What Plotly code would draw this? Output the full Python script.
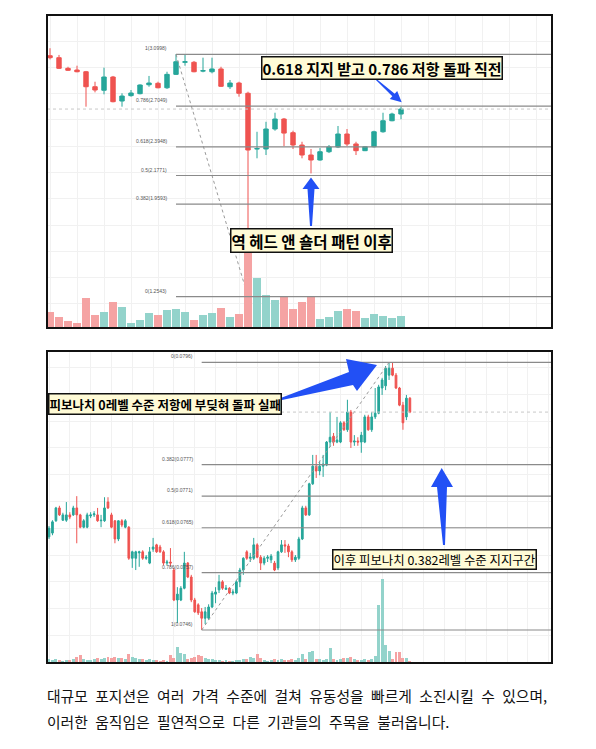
import plotly.graph_objects as go

W, H = 596, 749
OFF = 8  # default body margin of the html page
FW, FH = W - 2 * OFF, H - 2 * OFF

# top chart (40 candles)
top_open = [3.089, 3.074, 2.993, 2.980, 2.967, 2.853, 2.826, 2.927, 2.744, 2.785,
            2.800, 2.868, 2.879, 2.845, 2.947, 3.039, 3.039, 2.972, 2.967, 2.988,
            2.853, 2.881, 2.803, 2.379, 2.379, 2.531, 2.607, 2.503, 2.409, 2.333,
            2.295, 2.358, 2.394, 2.493, 2.417, 2.366, 2.396, 2.510, 2.594, 2.645]
top_high = [3.146, 3.095, 3.005, 3.013, 2.973, 2.891, 2.998, 2.935, 2.803, 2.828,
            2.871, 2.935, 2.891, 2.967, 3.0998, 3.095, 3.049, 3.074, 3.074, 3.005,
            2.904, 2.891, 2.815, 2.510, 2.586, 2.655, 2.615, 2.518, 2.434, 2.379,
            2.386, 2.409, 2.554, 2.531, 2.434, 2.401, 2.518, 2.655, 2.655, 2.701]
top_low = [3.061, 2.988, 2.973, 2.963, 2.701, 2.810, 2.795, 2.734, 2.701, 2.777,
           2.795, 2.853, 2.841, 2.836, 2.942, 3.013, 2.963, 2.963, 2.955, 2.851,
           2.836, 2.777, 1.2543, 2.308, 2.333, 2.518, 2.401, 2.379, 2.308, 2.193,
           2.290, 2.348, 2.386, 2.401, 2.333, 2.363, 2.391, 2.503, 2.590, 2.605]
top_close = [3.074, 2.993, 2.978, 2.967, 2.853, 2.828, 2.927, 2.739, 2.782, 2.805,
             2.866, 2.881, 2.845, 2.947, 3.043, 3.043, 2.967, 2.975, 2.988, 2.856,
             2.881, 2.803, 2.371, 2.382, 2.531, 2.607, 2.500, 2.409, 2.333, 2.295,
             2.358, 2.394, 2.493, 2.417, 2.366, 2.396, 2.510, 2.594, 2.645, 2.683]
top_vol = [47, 34, 22, 14, 90, 38, 47, 77, 63, 14, 23, 44, 38, 53, 57, 47, 24, 40, 44, 59,
           32, 42, 240, 150, 98, 85, 93, 57, 77, 92, 27, 32, 50, 56, 50, 30, 43, 35, 31, 35]
top_fib_from = 14   # swing high candle (level 1)
top_fib_to = 22     # swing low candle (level 0)

# bottom chart (105 candles)
bot_open = [0.07634, 0.07641, 0.07664, 0.07688, 0.07665, 0.07665, 0.07675, 0.07675, 0.07688, 0.07675,
            0.07652, 0.07652, 0.07673, 0.07675, 0.07675, 0.07664, 0.07664, 0.07699, 0.07675, 0.07664,
            0.07630, 0.07664, 0.07652, 0.07652, 0.07594, 0.07594, 0.07604, 0.07606, 0.07594, 0.07585,
            0.07611, 0.07619, 0.07615, 0.07606, 0.07585, 0.07587, 0.07572, 0.07516, 0.07516, 0.07538,
            0.07585, 0.07559, 0.07516, 0.07507, 0.07494, 0.07482, 0.07482, 0.07503, 0.07527, 0.07535,
            0.07550, 0.07536, 0.07538, 0.07529, 0.07529, 0.07550, 0.07572, 0.07606, 0.07594, 0.07594,
            0.07619, 0.07596, 0.07585, 0.07594, 0.07591, 0.07585, 0.07576, 0.07606, 0.07619, 0.07617,
            0.07606, 0.07591, 0.07594, 0.07630, 0.07688, 0.07675, 0.07733, 0.07766, 0.07757, 0.07766,
            0.07768, 0.07811, 0.07822, 0.07811, 0.07811, 0.07847, 0.07834, 0.07867, 0.07811, 0.07813,
            0.07811, 0.07811, 0.07858, 0.07834, 0.07858, 0.07865, 0.07912, 0.07916, 0.07936, 0.07949,
            0.07936, 0.07912, 0.07880, 0.07858, 0.07893]
bot_high = [0.07654, 0.07665, 0.07690, 0.07692, 0.07679, 0.07699, 0.07680, 0.07692, 0.07710, 0.07677,
            0.07667, 0.07679, 0.07680, 0.07682, 0.07688, 0.07675, 0.07708, 0.07708, 0.07679, 0.07665,
            0.07665, 0.07667, 0.07667, 0.07654, 0.07608, 0.07608, 0.07608, 0.07609, 0.07600, 0.07615,
            0.07632, 0.07621, 0.07619, 0.07609, 0.07591, 0.07613, 0.07576, 0.07540, 0.07542, 0.07606,
            0.07587, 0.07563, 0.07520, 0.07510, 0.07501, 0.07503, 0.07508, 0.07533, 0.07540, 0.07563,
            0.07553, 0.07544, 0.07540, 0.07536, 0.07553, 0.07576, 0.07596, 0.07609, 0.07604, 0.07632,
            0.07622, 0.07600, 0.07598, 0.07600, 0.07602, 0.07589, 0.07608, 0.07628, 0.07628, 0.07621,
            0.07609, 0.07600, 0.07634, 0.07692, 0.07692, 0.07735, 0.07787, 0.07787, 0.07776, 0.07787,
            0.07813, 0.07867, 0.07828, 0.07858, 0.07850, 0.07850, 0.07890, 0.07871, 0.07824, 0.07820,
            0.07830, 0.07862, 0.07862, 0.07867, 0.07912, 0.07918, 0.07931, 0.07953, 0.07960, 0.07959,
            0.07940, 0.07914, 0.07886, 0.07899, 0.07895]
bot_low = [0.07630, 0.07637, 0.07662, 0.07673, 0.07664, 0.07662, 0.07667, 0.07673, 0.07622, 0.07650,
           0.07650, 0.07650, 0.07669, 0.07671, 0.07662, 0.07652, 0.07662, 0.07686, 0.07650, 0.07622,
           0.07626, 0.07652, 0.07650, 0.07591, 0.07576, 0.07572, 0.07578, 0.07591, 0.07591, 0.07583,
           0.07606, 0.07604, 0.07604, 0.07581, 0.07581, 0.07579, 0.07514, 0.07473, 0.07514, 0.07536,
           0.07557, 0.07512, 0.07492, 0.07488, 0.07460, 0.07471, 0.07479, 0.07501, 0.07510, 0.07529,
           0.07535, 0.07535, 0.07527, 0.07525, 0.07527, 0.07540, 0.07563, 0.07591, 0.07587, 0.07591,
           0.07594, 0.07572, 0.07581, 0.07587, 0.07585, 0.07570, 0.07572, 0.07604, 0.07604, 0.07596,
           0.07587, 0.07587, 0.07591, 0.07628, 0.07673, 0.07673, 0.07731, 0.07744, 0.07749, 0.07746,
           0.07766, 0.07802, 0.07804, 0.07809, 0.07809, 0.07832, 0.07830, 0.07800, 0.07804, 0.07804,
           0.07791, 0.07809, 0.07832, 0.07830, 0.07854, 0.07863, 0.07899, 0.07908, 0.07927, 0.07934,
           0.07910, 0.07878, 0.07834, 0.07852, 0.07865]
bot_close = [0.07650, 0.07662, 0.07688, 0.07675, 0.07675, 0.07675, 0.07671, 0.07688, 0.07675, 0.07652,
             0.07664, 0.07675, 0.07675, 0.07677, 0.07664, 0.07665, 0.07688, 0.07688, 0.07652, 0.07630,
             0.07664, 0.07656, 0.07664, 0.07594, 0.07606, 0.07606, 0.07606, 0.07594, 0.07596, 0.07606,
             0.07615, 0.07606, 0.07606, 0.07585, 0.07587, 0.07585, 0.07516, 0.07527, 0.07538, 0.07585,
             0.07559, 0.07516, 0.07494, 0.07492, 0.07482, 0.07494, 0.07503, 0.07529, 0.07531, 0.07550,
             0.07538, 0.07538, 0.07529, 0.07531, 0.07550, 0.07572, 0.07594, 0.07594, 0.07596, 0.07619,
             0.07596, 0.07585, 0.07594, 0.07596, 0.07598, 0.07572, 0.07606, 0.07619, 0.07617, 0.07606,
             0.07591, 0.07596, 0.07630, 0.07688, 0.07675, 0.07733, 0.07766, 0.07757, 0.07766, 0.07770,
             0.07811, 0.07820, 0.07811, 0.07815, 0.07847, 0.07834, 0.07867, 0.07811, 0.07813, 0.07811,
             0.07824, 0.07858, 0.07834, 0.07858, 0.07865, 0.07914, 0.07927, 0.07949, 0.07949, 0.07936,
             0.07912, 0.07880, 0.07847, 0.07893, 0.07867]
bot_vol = [4, 3, 4, 3, 2, 3, 3, 4, 6, 8, 4, 3, 3, 4, 5, 4, 5, 6, 5, 6,
           5, 5, 4, 9, 6, 5, 4, 4, 3, 4, 3, 3, 2, 3, 2, 8, 5, 16, 10, 9,
           4, 5, 6, 8, 7, 5, 4, 4, 3, 3, 2, 3, 2, 2, 3, 3, 4, 4, 6, 5,
           9, 5, 3, 2, 3, 4, 3, 4, 3, 3, 4, 3, 5, 9, 4, 11, 12, 4, 4, 3,
           4, 15, 4, 3, 4, 5, 5, 6, 4, 3, 3, 4, 3, 4, 7, 58, 84, 18, 12, 4,
           11, 11, 5, 5, 2]
bot_fib_from = 44   # swing low candle (level 1)
bot_fib_to = 98     # swing high candle (level 0)

fib_ratios = [1, 0.786, 0.618, 0.5, 0.382, 0]

top_text = "0.618 지지 받고 0.786 저항 돌파 직전"
hs_text = "역 헤드 앤 숄더 패턴 이후"
fail_text = "피보나치 0레벨 수준 저항에 부딪혀 돌파 실패"
support_text = "이후 피보나치 0.382레벨 수준 지지구간"
caption = ["대규모 포지션은 여러 가격 수준에 걸쳐 유동성을 빠르게 소진시킬 수 있으며,",
           "이러한 움직임은 필연적으로 다른 기관들의 주목을 불러옵니다."]

UP, DOWN = "#26a69a", "#ef5350"
UP_V, DOWN_V = "#93d3cb", "#f5a3a3"


def px(x):
    return (x - OFF) / FW


def py(y):
    return 1 - (y - OFF) / FH


def path(points):
    s = "M " + " L ".join(f"{px(a):.5f},{py(b):.5f}" for a, b in points)
    return s + " Z"


fig = go.Figure()

panels = [
    dict(o=top_open, h=top_high, l=top_low, c=top_close, v=top_vol, f0=top_fib_from, f1=top_fib_to,
         xa="x", ya="y", yv="y2", top=15, bot=328, x0=50, step=9, vfrac=0.256, dt=3, dy=0.2),
    dict(o=bot_open, h=bot_high, l=bot_low, c=bot_close, v=bot_vol, f0=bot_fib_from, f1=bot_fib_to,
         xa="x2", ya="y3", yv="y4", top=351, bot=663, x0=49, step=3.47, vfrac=0.27, dt=6, dy=0.0005),
]

shapes = []
annotations = []
layout_axes = {}

for k, p in enumerate(panels):
    n = len(p["o"])
    idx = list(range(n))
    vcol = [UP_V if c >= o else DOWN_V for o, c in zip(p["o"], p["c"])]
    fig.add_trace(go.Bar(x=idx, y=p["v"], marker_color=vcol, marker_line_width=0, width=0.85,
                         xaxis=p["xa"], yaxis=p["yv"], showlegend=False))
    fig.add_trace(go.Candlestick(x=idx, open=p["o"], high=p["h"], low=p["l"], close=p["c"],
                                 increasing=dict(line=dict(color=UP, width=1), fillcolor=UP),
                                 decreasing=dict(line=dict(color=DOWN, width=1), fillcolor=DOWN),
                                 whiskerwidth=0, xaxis=p["xa"], yaxis=p["ya"], showlegend=False))

    xr = [(47 - p["x0"]) / p["step"], (552 - p["x0"]) / p["step"]]
    if k == 0:
        hi, lo = p["h"][p["f0"]], p["l"][p["f1"]]
        y_hi, y_lo = 54.3, 296.7
        levels = [lo + r * (hi - lo) for r in fib_ratios]
        diag = ([p["f0"], p["f1"]], [hi, lo])
    else:
        lo, hi = p["l"][p["f0"]], p["h"][p["f1"]]
        y_hi, y_lo = 362.3, 630
        levels = [hi - r * (hi - lo) for r in fib_ratios]
        diag = ([p["f0"], p["f1"]], [lo, hi])
    start = p["f0"]
    scale = (y_lo - y_hi) / (hi - lo)
    yr = [hi - (p["bot"] - y_hi) / scale, hi + (y_hi - p["top"]) / scale]

    fig.add_trace(go.Scatter(x=diag[0], y=diag[1], mode="lines",
                             line=dict(color="#9a9a9a", width=1, dash="dot"),
                             xaxis=p["xa"], yaxis=p["ya"], showlegend=False, hoverinfo="skip"))

    for r, lv in zip(fib_ratios, levels):
        shapes.append(dict(type="line", xref=p["xa"], yref=p["ya"], x0=start, x1=xr[1],
                           y0=lv, y1=lv, line=dict(color="#8a8a8a", width=1.2)))
        annotations.append(dict(xref=p["xa"], yref=p["ya"], x=start - 7 / p["step"],
                                y=lv, yshift=6, xanchor="right", yanchor="middle", showarrow=False,
                                text=f"{r:g}({lv + 1e-9:.4f})",
                                font=dict(size=5, color="#555", family="Liberation Sans")))

    last = p["c"][-1]
    shapes.append(dict(type="line", xref=p["xa"] + " domain", yref=p["ya"], x0=0, x1=1,
                       y0=last, y1=last, line=dict(color="#c8c8c8", width=1, dash="dot")))

    shapes.append(dict(type="rect", xref="paper", yref="paper", x0=px(47), x1=px(552),
                       y0=py(p["bot"]), y1=py(p["top"]), line=dict(color="#111", width=2)))

    xname = "xaxis" if k == 0 else "xaxis2"
    yname = "yaxis" if k == 0 else "yaxis3"
    vname = "yaxis2" if k == 0 else "yaxis4"
    layout_axes[xname] = dict(domain=[px(47), px(552)], range=xr, anchor=p["ya"],
                              showgrid=True, gridcolor="#f1f1f1", tick0=0, dtick=p["dt"],
                              showticklabels=False, zeroline=False, ticks="",
                              rangeslider=dict(visible=False))
    layout_axes[yname] = dict(domain=[py(p["bot"]), py(p["top"])], range=yr, anchor=p["xa"],
                              showgrid=True, gridcolor="#f1f1f1", dtick=p["dy"],
                              showticklabels=False, zeroline=False, ticks="")
    layout_axes[vname] = dict(overlaying=p["ya"], range=[0, max(p["v"]) / p["vfrac"]],
                              visible=False, showgrid=False, zeroline=False)

box_font = "Noto Sans CJK KR"
boxes = [
    (top_text, 381.7, 68.3, 15, True),
    (hs_text, 311.2, 240.0, 15.5, True),
    (fail_text, 164.5, 404.2, 12.5, True),
    (support_text, 434.8, 559.3, 12.4, False),
]
for txt, cx, cy, fs, bold in boxes:
    annotations.append(dict(xref="paper", yref="paper", x=px(cx), y=py(cy),
                            xanchor="center", yanchor="middle", showarrow=False,
                            text=f"<b>{txt}</b>" if bold else txt,
                            font=dict(size=fs, color="#000", family=box_font),
                            bgcolor="#fffbd6", bordercolor="#111", borderwidth=1.5, borderpad=0))

for i, line in enumerate(caption):
    annotations.append(dict(xref="paper", yref="paper", x=px(45), y=py(695 + 26 * i),
                            xanchor="left", yanchor="middle", showarrow=False,
                            text=line.replace(" ", "\u2002"),
                            font=dict(size=14.8, color="#111", family=box_font)))

# blue callout arrows
BLUE = "#2250f5"
arrows = [
    [(374.7, 78.7), (392.3, 96.3), (389.8, 99.1), (401.7, 102.3), (397.2, 90.9), (394.7, 93.7), (375.3, 77.9)],
    [(310, 226), (307.5, 189), (302.5, 189), (311, 177.5), (319.5, 189), (314.5, 189), (312, 226)],
    [(282, 397.5), (349, 372), (346, 359), (377, 365), (357, 391), (353, 385), (282, 400)],
    [(443, 545), (437, 487), (431, 487), (441.7, 468), (453, 487), (447, 487), (445, 545)],
]
for pts in arrows:
    shapes.append(dict(type="path", xref="paper", yref="paper", path=path(pts),
                       fillcolor=BLUE, line=dict(width=0)))

fig.update_layout(width=FW, height=FH, margin=dict(l=0, r=0, t=0, b=0),
                  paper_bgcolor="white", plot_bgcolor="white", showlegend=False,
                  bargap=0, shapes=shapes, annotations=annotations, **layout_axes)

fig.write_html("out.html")
